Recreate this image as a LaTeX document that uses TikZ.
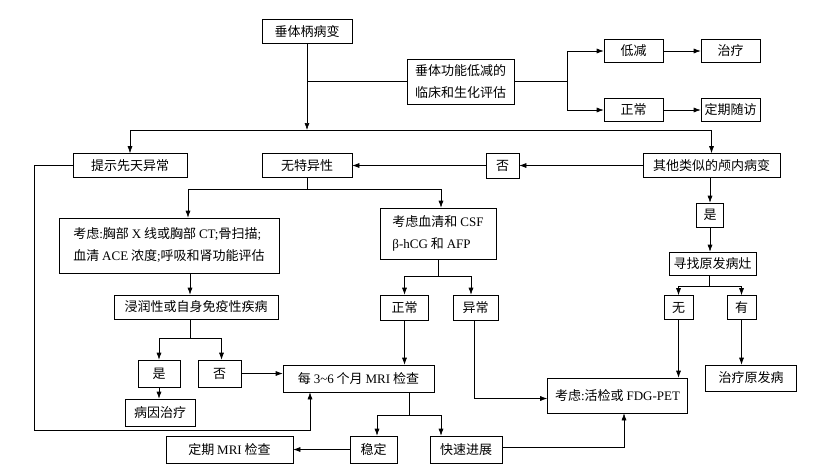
\documentclass[tikz,border=0pt]{standalone}
\usepackage{fontspec}
\setmainfont{Liberation Serif}
\newfontfamily\cjk{Noto Sans CJK SC}
\usepackage{tikz}
\usetikzlibrary{arrows.meta}
\newcommand{\lat}[1]{{\rmfamily #1}}
\tikzset{box/.style = {draw, inner sep = 2, align = center, font = \cjk\fontsize{13}{22}\selectfont}}
\tikzset{arr/.style = {-{Latex[length = 7, width = 5]}}}

\begin{document}
\begin{tikzpicture}[x = 1pt, y = -1pt, line width = 0.6pt]
      \useasboundingbox (0, 0) rectangle (821, 469);
      % top row
      \node [box, minimum width = 90, minimum height = 24] (lesion) at (307, 31.5) {垂体柄病变};
      \node [box, minimum width = 107, minimum height = 45] (eval) at (460.5, 81.5) {垂体功能低减的\\临床和生化评估};
      \node [box, minimum width = 59, minimum height = 23] (low) at (633.5, 51) {低减};
      \node [box, minimum width = 59, minimum height = 23] (treat) at (730.5, 51) {治疗};
      \node [box, minimum width = 59, minimum height = 23] (normal) at (633.5, 110) {正常};
      \node [box, minimum width = 59, minimum height = 23] (follow) at (730.5, 110) {定期随访};
      % second row
      \node [box, minimum width = 114, minimum height = 24] (congen) at (130, 165.5) {提示先天异常};
      \node [box, minimum width = 90, minimum height = 24] (nonspec) at (307, 165.5) {无特异性};
      \node [box, minimum width = 33, minimum height = 25] (noA) at (502.5, 165.5) {否};
      \node [box, minimum width = 137, minimum height = 24] (other) at (711.5, 165.5) {其他类似的颅内病变};
      % middle
      \node [box, minimum width = 220, minimum height = 55, align = left] (chest) at (169, 245.5)
            {考虑\lat{:}胸部 \lat{X} 线或胸部 \lat{CT;}骨扫描\lat{;}\\血清 \lat{ACE} 浓度\lat{;}呼吸和肾功能评估};
      \node [box, minimum width = 116, minimum height = 51, align = left] (serum) at (438, 233.5)
            {考虑血清和 \lat{CSF}\\\lat{β-hCG} 和 \lat{AFP}};
      \node [box, minimum width = 27, minimum height = 24] (yesA) at (710, 215) {是};
      \node [box, minimum width = 87, minimum height = 23] (search) at (712.5, 263.5) {寻找原发病灶};
      \node [box, minimum width = 164, minimum height = 24] (infilt) at (196, 307) {浸润性或自身免疫性疾病};
      \node [box, minimum width = 48, minimum height = 25] (normB) at (404.5, 307.5) {正常};
      \node [box, minimum width = 45, minimum height = 25] (abnorm) at (475.5, 307.5) {异常};
      \node [box, minimum width = 29, minimum height = 24] (none) at (678.5, 307.5) {无};
      \node [box, minimum width = 29, minimum height = 24] (found) at (741.5, 307.5) {有};
      % lower part
      \node [box, minimum width = 42, minimum height = 27] (yesB) at (159, 373.5) {是};
      \node [box, minimum width = 43, minimum height = 27] (noB) at (219.5, 373.5) {否};
      \node [box, minimum width = 70, minimum height = 27] (cause) at (160, 412.5) {病因治疗};
      \node [box, minimum width = 151, minimum height = 27] (mri) at (358.5, 378.5) {每 \lat{3\textasciitilde6} 个月 \lat{MRI} 检查};
      \node [box, minimum width = 140, minimum height = 35] (biopsy) at (617.5, 395.5) {考虑\lat{:}活检或 \lat{FDG-PET}};
      \node [box, minimum width = 91, minimum height = 26] (primary) at (751, 378) {治疗原发病};
      \node [box, minimum width = 47, minimum height = 27] (stable) at (373.5, 449.5) {稳定};
      \node [box, minimum width = 127, minimum height = 27] (regmri) at (229.5, 449.5) {定期 \lat{MRI} 检查};
      \node [box, minimum width = 72, minimum height = 27] (rapid) at (466, 449.5) {快速进展};
      % branch points
      \coordinate (j1) at (307, 81.5);
      \coordinate (j2) at (567, 81.5);
      \coordinate (j3) at (307, 130);
      \coordinate (j4) at (307, 189);
      \coordinate (j5) at (190, 338);
      \coordinate (j6) at (438, 276);
      \coordinate (j7) at (709, 286);
      \coordinate (j8) at (409, 415);
      \coordinate (r1) at (34, 430);
      \coordinate (r2) at (310, 430);
      % connectors
      \draw [arr] (lesion) -- (j3);
      \draw (j1) -- (eval.west);
      \draw (eval.east) -- (j2);
      \draw [arr] (j2) |- (low);
      \draw [arr] (j2) |- (normal);
      \draw [arr] (low) -- (treat);
      \draw [arr] (normal) -- (follow);
      \draw [arr] (j3) -| (congen);
      \draw [arr] (j3) -| (other);
      \draw [arr] (other) -- (noA);
      \draw [arr] (noA) -- (nonspec);
      \draw (nonspec) -- (j4);
      \draw [arr] (j4) -| ([xshift = 19]chest.north);
      \draw [arr] (j4) -| ([xshift = 3]serum.north);
      \draw [arr] ([xshift = 21]chest.south) -- ([xshift = 21]chest.south |- infilt.north);
      \draw (infilt.south -| j5) -- (j5);
      \draw [arr] (j5) -| (yesB);
      \draw [arr] (j5) -| ([xshift = 2]noB.north);
      \draw [arr] (yesB) -- (yesB |- cause.north);
      \draw [arr] (noB.east) -- (noB.east -| mri.west);
      \draw (serum) -- (j6);
      \draw [arr] (j6) -| (normB);
      \draw [arr] (j6) -| ([xshift = -4.5]abnorm.north);
      \draw [arr] (normB) -- (normB |- mri.north);
      \draw [arr] ([xshift = -1.5]abnorm.south) |- ([yshift = -3]biopsy.west);
      \draw [arr] (yesA |- other.south) -- (yesA);
      \draw [arr] (yesA) -- (yesA |- search.north);
      \draw (search.south -| j7) -- (j7);
      \draw [arr] (j7) -| (none);
      \draw [arr] (j7) -| (found);
      \draw [arr] (none) -- (none |- biopsy.north);
      \draw [arr] (found) -- (found |- primary.north);
      \draw [arr] (congen) -| (r1) -- (r2) -- (r2 |- mri.south);
      \draw (mri.south -| j8) -- (j8);
      \draw [arr] (j8) -| ([xshift = 3.5]stable.north);
      \draw [arr] (j8) -| ([xshift = -25]rapid.north);
      \draw [arr] (stable) -- (regmri);
      \draw [arr] ([yshift = 2.5]rapid.east) -| ([xshift = 6.5]biopsy.south);
\end{tikzpicture}
\end{document}
